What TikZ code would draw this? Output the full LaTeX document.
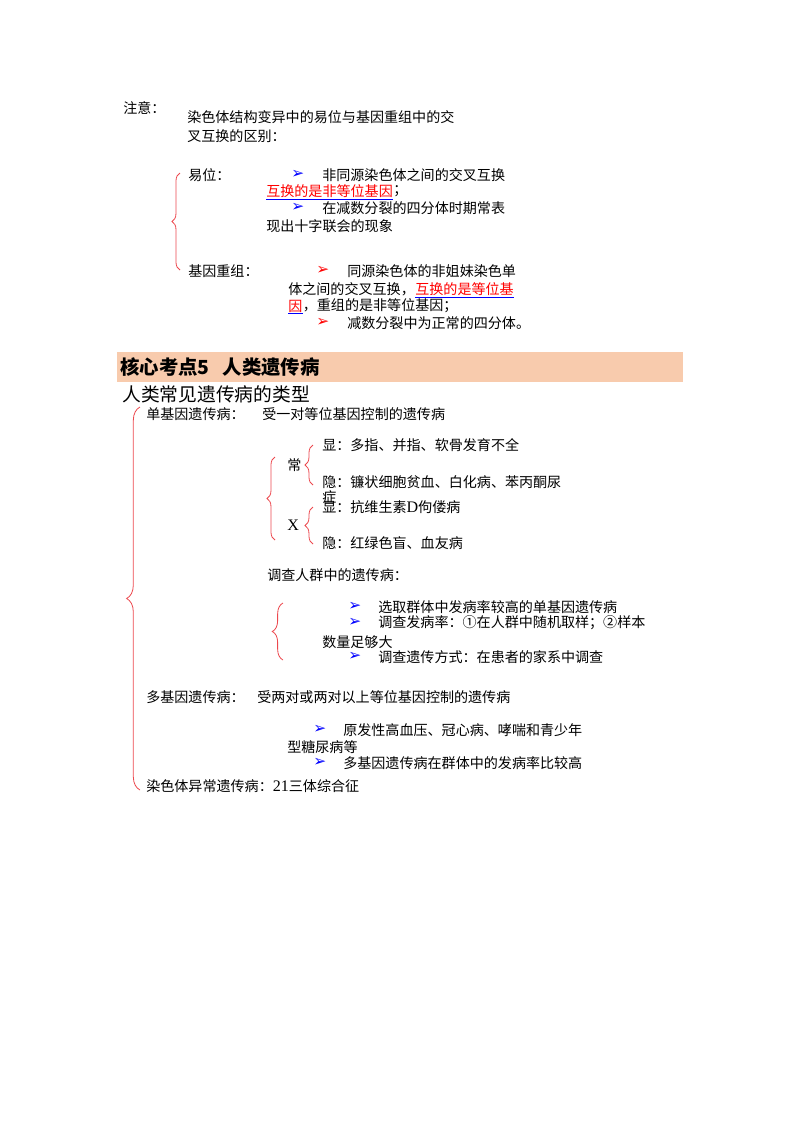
\documentclass[tikz,border=0pt]{standalone}
\usepackage{fontspec}
\setmainfont{Noto Sans CJK SC}
\newfontfamily\symfont{DejaVu Sans}
\newfontfamily\latfont{Liberation Serif}
\usepackage{tikz}
\usetikzlibrary{positioning}
\usetikzlibrary{decorations.pathreplacing}

\definecolor{peach}{RGB}{248,203,173}
\definecolor{bracered}{RGB}{236,72,78}

\begin{document}
\begin{tikzpicture}[
    x=0.02625cm,
    y=-0.02625cm,
    every node/.style={
        inner sep=0pt,
        anchor=west,
        font=\fontsize{10.5}{12}\selectfont
    },
    hl/.style={text=red},
    bluebul/.style={
        text=blue,
        font=\symfont\fontsize{11.5}{12}\selectfont
    },
    redbul/.style={
        text=red,
        font=\symfont\fontsize{11.5}{12}\selectfont
    },
    band/.style={
        fill=peach,
        text width=14.7cm,
        minimum height=0.79cm,
        inner xsep=0.08cm,
        align=left,
        font=\bfseries\fontsize{14.5}{16}\selectfont
    },
    uline/.style={draw=blue, line width=0.6pt},
    curly/.style={
        draw=bracered,
        line width=0.6pt,
        decorate,
        decoration={brace, amplitude=#1}
    }
]
\useasboundingbox (0,0) rectangle (800,1132);

% Note
\node (note) at (123,108) {注意：};
\node (note1) at (187,117.5) {染色体结构变异中的易位与基因重组中的交};
\node (note2) at (187,136) {叉互换的区别：};

% Translocation
\node (trans) at (188,175) {易位：};
\node[bluebul] (trans-b1) at (291,174) {➢};
\node (trans-t1) at (322,175) {非同源染色体之间的交叉互换};
\node[hl] (trans-hl) at (266,191) {互换的是非等位基因};
\node (trans-t2) at (trans-hl.east) {；};
\node[bluebul] (trans-b2) at (291,207) {➢};
\node (trans-t3) at (322,208) {在减数分裂的四分体时期常表};
\node (trans-t4) at (266,226) {现出十字联会的现象};
\draw[uline] ([yshift=-1pt]trans-hl.south west) -- ([yshift=-1pt]trans-hl.south east);

% Recombination
\node (recomb) at (188,271) {基因重组：};
\node[redbul] (recomb-b1) at (316,270) {➢};
\node (recomb-t1) at (347,271) {同源染色体的非姐妹染色单};
\node (recomb-t2) at (288,289) {体之间的交叉互换，};
\node[hl] (recomb-hl1) at (recomb-t2.east) {互换的是等位基};
\node[hl] (recomb-hl2) at (288,306) {因};
\node (recomb-t3) at (recomb-hl2.east) {，重组的是非等位基因；};
\node[redbul] (recomb-b2) at (316,322) {➢};
\node (recomb-t4) at (347,323) {减数分裂中为正常的四分体。};
\draw[uline] ([yshift=-1pt]recomb-hl1.south west) -- ([yshift=-1pt]recomb-hl1.south east);
\draw[uline] ([yshift=-1pt]recomb-hl2.south west) -- ([yshift=-1pt]recomb-hl2.south east);

\draw[curly=6pt] (180,270) -- (180,173);

% Heading
\node[band] (head) at (117,367) {核心考点5\ \ 人类遗传病};
\node[font=\fontsize{14}{16}\selectfont] (types) at (122,394) {人类常见遗传病的类型};

% Monogenic
\node (mono) at (146,414) {单基因遗传病：};
\node (mono-t) at (262,414) {受一对等位基因控制的遗传病};

\node (auto) at (287,465) {常};
\node (auto-d) at (322,445) {显：多指、并指、软骨发育不全};
\node (auto-r) at (322,482) {隐：镰状细胞贫血、白化病、苯丙酮尿};
\node (auto-r2) at (322,497) {症};
\node (xlink) at (287,525) {\latfont\fontsize{12}{13}\selectfont X};
\node (xlink-d) at (322,507) {显：抗维生素{\latfont\fontsize{12}{13}\selectfont D}佝偻病};
\node (xlink-r) at (322,543) {隐：红绿色盲、血友病};

\draw[curly=6pt] (275,540) -- (275,457);
\draw[curly=6pt] (313,485) -- (313,445);
\draw[curly=6pt] (313,544) -- (313,507);

% Survey
\node (survey) at (267,575) {调查人群中的遗传病：};
\node[bluebul] (survey-b1) at (348,606) {➢};
\node (survey-t1) at (378,607) {选取群体中发病率较高的单基因遗传病};
\node[bluebul] (survey-b2) at (348,622) {➢};
\node (survey-t2) at (378,623) {调查发病率：①在人群中随机取样；②样本};
\node (survey-t3) at (322,642) {数量足够大};
\node[bluebul] (survey-b3) at (348,656) {➢};
\node (survey-t4) at (378,657) {调查遗传方式：在患者的家系中调查};

\draw[curly=8pt] (283,660) -- (283,603);

% Polygenic
\node (poly) at (146,697) {多基因遗传病：};
\node (poly-t) at (257,697) {受两对或两对以上等位基因控制的遗传病};
\node[bluebul] (poly-b1) at (313,729) {➢};
\node (poly-t1) at (343,730) {原发性高血压、冠心病、哮喘和青少年};
\node (poly-t2) at (287,747) {型糖尿病等};
\node[bluebul] (poly-b2) at (313,762) {➢};
\node (poly-t3) at (343,763) {多基因遗传病在群体中的发病率比较高};

% Chromosomal
\node (chrom) at (146,786) {染色体异常遗传病：{\latfont\fontsize{12}{13}\selectfont 21}三体综合征};

\draw[curly=10pt] (140,790) -- (140,407);

\end{tikzpicture}
\end{document}
